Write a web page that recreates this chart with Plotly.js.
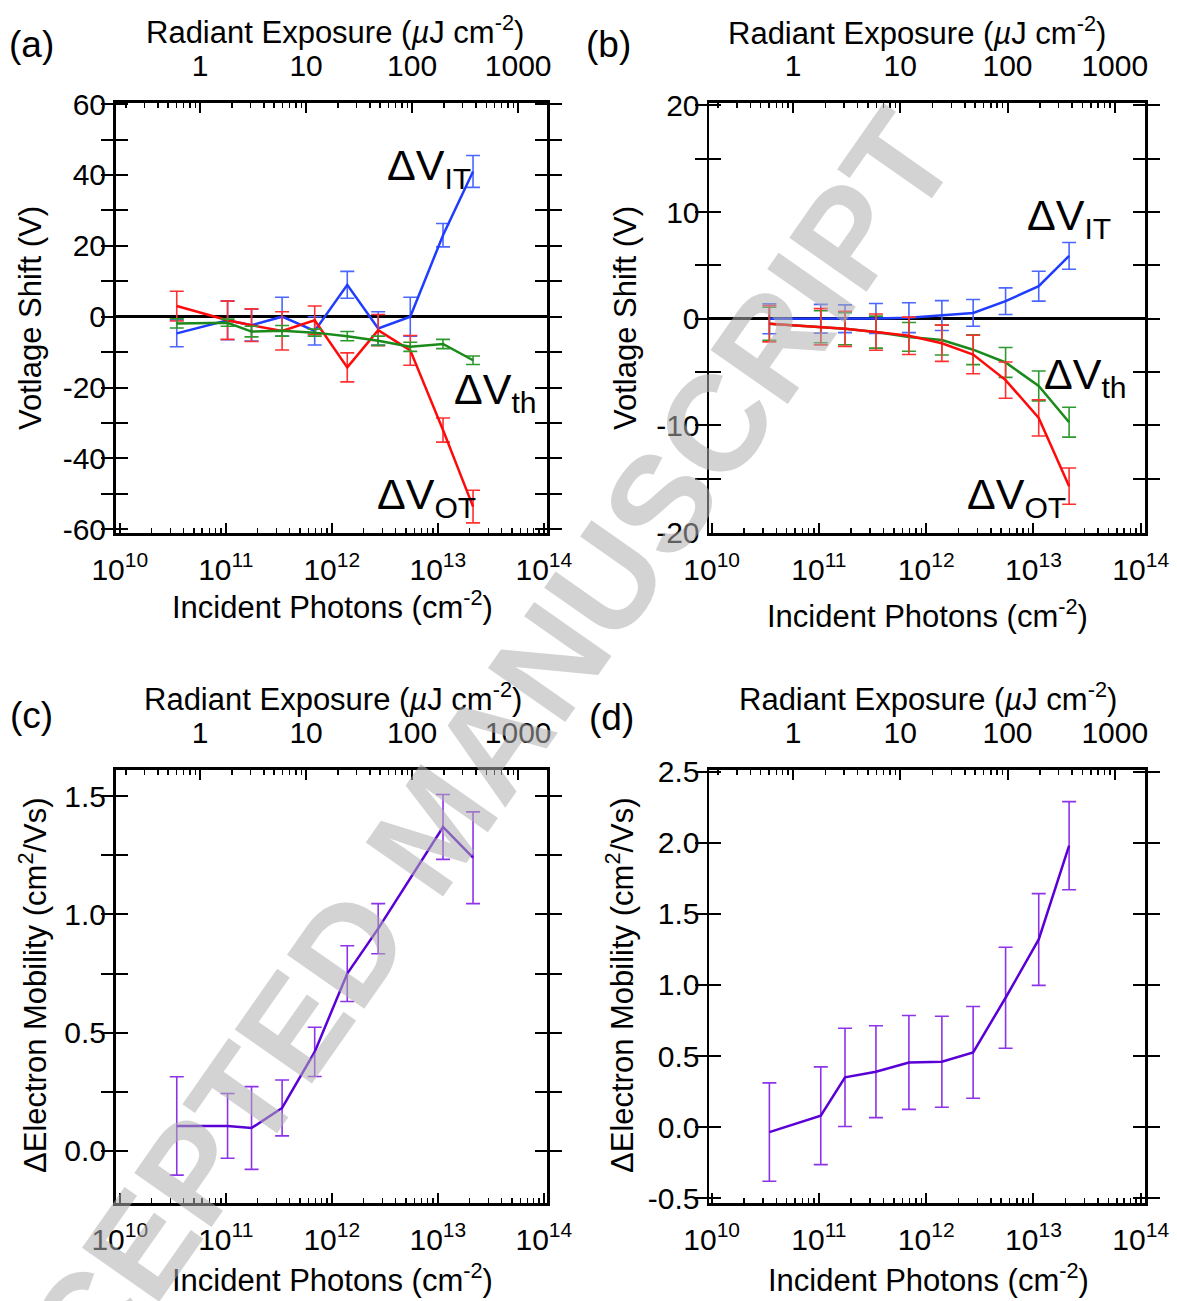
<!DOCTYPE html>
<html><head><meta charset="utf-8">
<script src="https://cdn.plot.ly/plotly-3.0.1.min.js"></script>
<style>html,body{margin:0;padding:0;background:#fff}#chart{width:1177px;height:1301px}</style>
</head><body><div id="chart"></div>
<script>
// ---------- data ----------
const doses = [3.45e10, 1.04e11, 1.75e11, 3.4e11, 6.9e11, 1.4e12, 2.74e12, 5.5e12, 1.12e13, 2.15e13];
const dosesC = [3.45e10, 1.04e11, 1.75e11, 3.4e11, 6.9e11, 1.4e12, 2.74e12, 1.12e13, 2.15e13];

const aIT = [-4.7, -1.0, -2.4, 0.0, -4.0, 9.0, -3.3, 0.0, 23.0, 41.0];
const aITerr = [3.8, 5.5, 4.5, 5.5, 4.0, 3.8, 4.7, 5.5, 3.3, 4.5];
const aOT = [3.0, -1.0, -2.4, -4.0, -1.0, -14.3, -3.8, -9.5, -32.0, -53.6];
const aOTerr = [4.2, 5.4, 4.6, 5.4, 4.0, 4.1, 4.4, 4.2, 3.4, 4.6];
const aTH = [-1.9, -1.7, -4.2, -4.0, -4.5, -5.5, -6.8, -8.5, -7.7, -12.3];
const aTHerr = [1.3, 1.0, 1.5, 1.5, 1.0, 1.3, 1.3, 1.3, 1.3, 1.2];

const bIT = [0.0, 0.0, 0.0, 0.03, 0.1, 0.3, 0.55, 1.65, 3.05, 5.9];
const bITerr = [1.4, 1.35, 1.3, 1.4, 1.4, 1.4, 1.25, 1.25, 1.4, 1.25];
const bTH = [-0.47, -0.75, -0.94, -1.25, -1.7, -2.0, -2.9, -4.1, -6.3, -9.7];
const bTHerr = [1.55, 1.5, 1.5, 1.5, 1.35, 1.4, 1.4, 1.4, 1.4, 1.4];
const bOT = [-0.47, -0.75, -0.94, -1.25, -1.6, -2.3, -3.35, -5.75, -9.3, -15.7];
const bOTerr = [1.7, 1.7, 1.65, 1.7, 1.75, 1.7, 1.8, 1.7, 1.7, 1.7];

const cMob = [0.106, 0.106, 0.097, 0.182, 0.419, 0.75, 0.94, 1.37, 1.24];
const cMobErr = [0.208, 0.137, 0.175, 0.118, 0.104, 0.118, 0.106, 0.137, 0.194];

const dMob = [-0.035, 0.08, 0.35, 0.39, 0.455, 0.46, 0.526, 0.91, 1.32, 1.98];
const dMobErr = [0.346, 0.344, 0.346, 0.323, 0.33, 0.32, 0.323, 0.355, 0.323, 0.31];

// tick labels
const photonTicks = [1e10, 1e11, 1e12, 1e13, 1e14];
const photonLabels = ['10<sup>10</sup>', '10<sup>11</sup>', '10<sup>12</sup>', '10<sup>13</sup>', '10<sup>14</sup>'];
const exposureTicks = [1, 10, 100, 1000];
const exposureLabels = ['1', '10', '100', '1000'];
const aYTicks = [-60, -50, -40, -30, -20, -10, 0, 10, 20, 30, 40, 50, 60];
const aYLabels = ['-60', '', '-40', '', '-20', '', '0', '', '20', '', '40', '', '60'];
const bYTicks = [-20, -15, -10, -5, 0, 5, 10, 15, 20];
const bYLabels = ['-20', '', '-10', '', '0', '', '10', '', '20'];
const cYTicks = [0, 0.25, 0.5, 0.75, 1.0, 1.25, 1.5];
const cYLabels = ['0.0', '', '0.5', '', '1.0', '', '1.5'];
const dYTicks = [-0.5, 0, 0.5, 1.0, 1.5, 2.0, 2.5];
const dYLabels = ['-0.5', '0.0', '0.5', '1.0', '1.5', '2.0', '2.5'];

// photons per (µJ cm^-2), log10
const logPhotonsPerMicroJ = 10.758;

// ---------- layout helpers ----------
const W = 1177, H = 1301;
const px = x => x / W;
const py = y => 1 - y / H;
const FONT = '"Liberation Sans", Arial, Helvetica, sans-serif';
const LEFT = [px(115.5), px(547)], RIGHT = [px(709), px(1145)];
const TOPROW = [py(533), py(102.5)], BOTROW = [py(1203), py(769.5)];
const rangeL = [9.96, 14.03], rangeR = [9.975, 14.04];

const tickFont = {family: FONT, size: 30, color: '#000'};
const minorSpec = {dtick: 'D1', ticks: 'inside', ticklen: 5, tickwidth: 1.5, tickcolor: '#000', showgrid: false};

function bottomAxis(domain, range, anchor) {
  return {
    type: 'log', domain, range, anchor, side: 'bottom',
    tickmode: 'array', tickvals: photonTicks, ticktext: photonLabels,
    ticks: 'inside', ticklen: 10, tickwidth: 2, tickcolor: '#000',
    minor: Object.assign({}, minorSpec),
    showline: true, linewidth: 2.5, linecolor: '#000', mirror: false,
    showgrid: false, zeroline: false, tickfont: tickFont, ticklabelstandoff: 8, fixedrange: true
  };
}
function topAxis(over, domain, range, anchor) {
  return {
    type: 'log', overlaying: over, anchor, side: 'top', domain,
    range: [range[0] - logPhotonsPerMicroJ, range[1] - logPhotonsPerMicroJ],
    tickmode: 'array', tickvals: exposureTicks, ticktext: exposureLabels,
    ticks: 'inside', ticklen: 10, tickwidth: 2, tickcolor: '#000',
    minor: Object.assign({}, minorSpec),
    showline: true, linewidth: 2.5, linecolor: '#000',
    showgrid: false, zeroline: false, tickfont: tickFont, ticklabelstandoff: 12, fixedrange: true
  };
}
function leftAxis(domain, range, anchor, tv, tt, zero) {
  return {
    domain, range, anchor, tickmode: 'array', tickvals: tv, ticktext: tt,
    ticks: 'inside', ticklen: 12, tickwidth: 2, tickcolor: '#000',
    showline: true, linewidth: 2.5, linecolor: '#000', mirror: 'allticks',
    showgrid: false, zeroline: zero, zerolinewidth: 3, zerolinecolor: '#000',
    tickfont: tickFont, ticklabelstandoff: 1, fixedrange: true
  };
}

const BLUE = '#1f3cff', BLUE_E = '#4a66ff';
const RED = '#ff0a0a', RED_E = '#ff3030';
const GREEN = '#1a8a1a', GREEN_E = '#2e9a2e';
const PURP = '#5a00d6', PURP_E = '#8d33e8';

function tr(x, y, err, color, ecolor, xa, ya) {
  return {
    type: 'scatter', mode: 'lines', x, y, xaxis: xa, yaxis: ya,
    line: {color, width: 2.5},
    error_y: {type: 'data', array: err, visible: true, color: ecolor, thickness: 1.6, width: 7},
    hoverinfo: 'skip', showlegend: false
  };
}
// empty traces so the top (radiant exposure) axes are attached to a subplot
function holder(xa, ya) {
  return {type: 'scatter', mode: 'lines', x: [], y: [], xaxis: xa, yaxis: ya, hoverinfo: 'skip', showlegend: false};
}

const data = [
  tr(doses, aIT, aITerr, BLUE, BLUE_E, 'x', 'y'),
  tr(doses, aOT, aOTerr, RED, RED_E, 'x', 'y'),
  tr(doses, aTH, aTHerr, GREEN, GREEN_E, 'x', 'y'),
  tr(doses, bIT, bITerr, BLUE, BLUE_E, 'x2', 'y2'),
  tr(doses, bTH, bTHerr, GREEN, GREEN_E, 'x2', 'y2'),
  tr(doses, bOT, bOTerr, RED, RED_E, 'x2', 'y2'),
  tr(dosesC, cMob, cMobErr, PURP, PURP_E, 'x3', 'y3'),
  tr(doses, dMob, dMobErr, PURP, PURP_E, 'x4', 'y4'),
  holder('x5', 'y'), holder('x6', 'y2'), holder('x7', 'y3'), holder('x8', 'y4')
];

function ann(text, x, y, size, opts) {
  return Object.assign({text, x: px(x), y: py(y), xref: 'paper', yref: 'paper', showarrow: false,
    xanchor: 'center', yanchor: 'middle', font: {family: FONT, size, color: '#000'}}, opts || {});
}
const radTitle = 'Radiant Exposure (<i>µ</i>J cm<sup>-2</sup>)';
const photTitle = 'Incident Photons (cm<sup>-2</sup>)';
const voltTitle = 'Votlage Shift (V)';
const mobTitle = 'ΔElectron Mobility (cm<sup>2</sup>/Vs)';

const annotations = [
  ann('(a)', 31, 45, 37), ann('(b)', 608, 45, 37), ann('(c)', 31, 715, 37), ann('(d)', 611, 717, 37),
  ann(radTitle, 335, 30, 31), ann(radTitle, 917, 31, 31), ann(radTitle, 333, 697, 31), ann(radTitle, 928, 697, 31),
  ann(photTitle, 332, 605, 31), ann(photTitle, 927, 614, 31), ann(photTitle, 332, 1278, 31), ann(photTitle, 928, 1278, 31),
  ann(voltTitle, 30, 318, 31, {textangle: -90}), ann(voltTitle, 625, 318, 31, {textangle: -90}),
  ann(mobTitle, 33, 985, 31, {textangle: -90}), ann(mobTitle, 620, 985, 31, {textangle: -90}),
  ann('ΔV<sub>IT</sub>', 385, 168, 43, {xanchor: 'left'}),
  ann('ΔV<sub>th</sub>', 452, 392, 43, {xanchor: 'left'}),
  ann('ΔV<sub>OT</sub>', 375, 497, 43, {xanchor: 'left'}),
  ann('ΔV<sub>IT</sub>', 1025, 218, 43, {xanchor: 'left'}),
  ann('ΔV<sub>th</sub>', 1042, 377, 43, {xanchor: 'left'}),
  ann('ΔV<sub>OT</sub>', 965, 497, 43, {xanchor: 'left'}),
  {text: 'ACCEPTED MANUSCRIPT', x: px(433), y: py(827), xref: 'paper', yref: 'paper', showarrow: false,
   xanchor: 'center', yanchor: 'middle', textangle: -55,
   font: {family: FONT, size: 137, weight: 'bold', color: 'rgba(175,175,175,0.55)'}}
];

const layout = {
  width: W, height: H, margin: {l: 0, r: 0, t: 0, b: 0},
  paper_bgcolor: '#fff', plot_bgcolor: 'rgba(0,0,0,0)',
  showlegend: false, font: {family: FONT, color: '#000'},
  xaxis: bottomAxis(LEFT, rangeL, 'y'),
  xaxis2: bottomAxis(RIGHT, rangeR, 'y2'),
  xaxis3: bottomAxis(LEFT, rangeL, 'y3'),
  xaxis4: bottomAxis(RIGHT, rangeR, 'y4'),
  xaxis5: topAxis('x', LEFT, rangeL, 'y'),
  xaxis6: topAxis('x2', RIGHT, rangeR, 'y2'),
  xaxis7: topAxis('x3', LEFT, rangeL, 'y3'),
  xaxis8: topAxis('x4', RIGHT, rangeR, 'y4'),
  yaxis: leftAxis(TOPROW, [-61.05, 60.45], 'x', aYTicks, aYLabels, true),
  yaxis2: leftAxis(TOPROW, [-20.09, 20.28], 'x2', bYTicks, bYLabels, true),
  yaxis3: leftAxis(BOTROW, [-0.22, 1.613], 'x3', cYTicks, cYLabels, false),
  yaxis4: leftAxis(BOTROW, [-0.534, 2.516], 'x4', dYTicks, dYLabels, false),
  annotations
};

Plotly.newPlot('chart', data, layout, {staticPlot: true, displayModeBar: false});
</script>
</body></html>
